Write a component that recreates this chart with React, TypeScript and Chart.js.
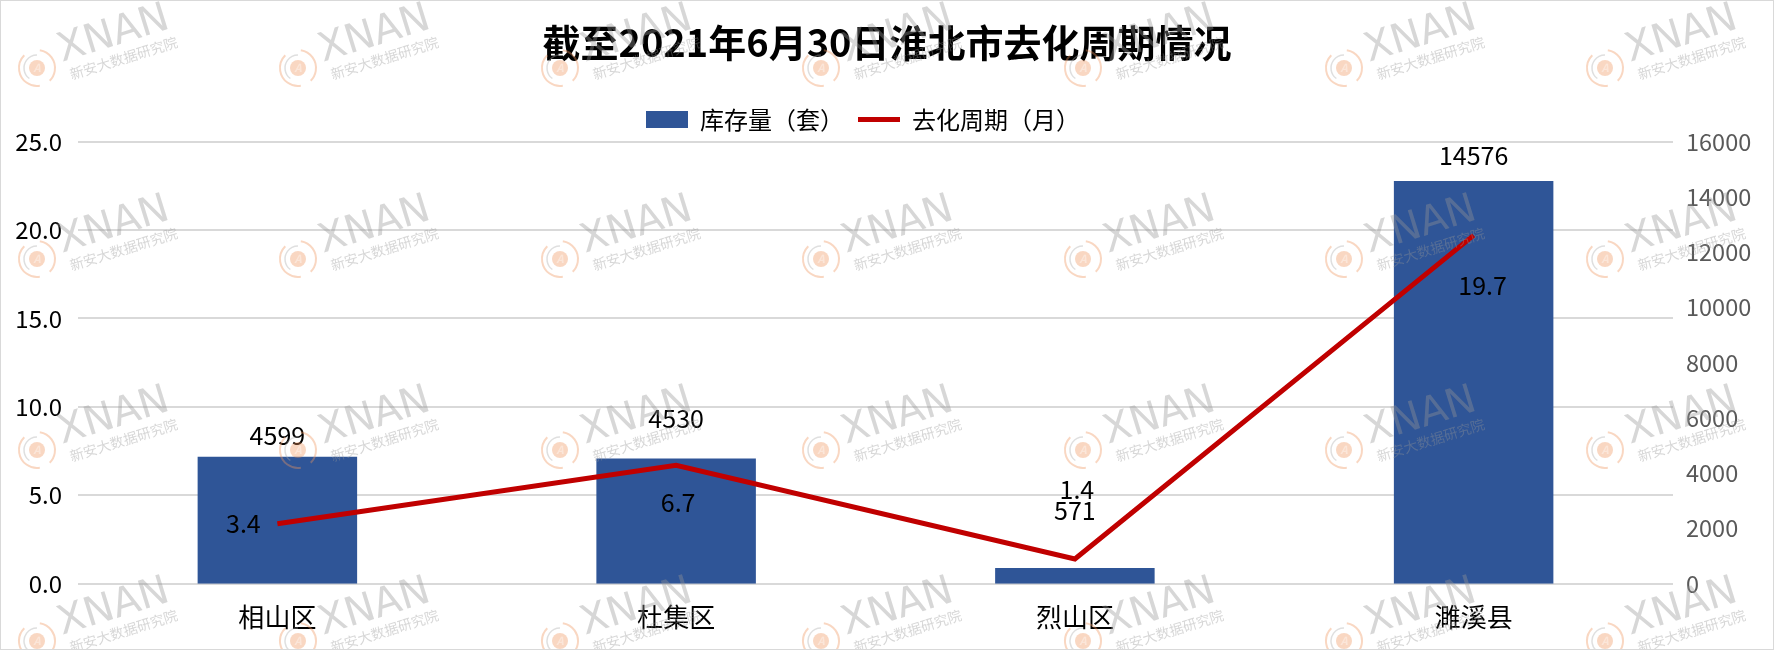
import React, { useEffect, useRef } from "react";
import { Chart, registerables } from "chart.js";

Chart.register(...registerables);

const TITLE = "截至2021年6月30日淮北市去化周期情况";
const categories = ["相山区", "杜集区", "烈山区", "濉溪县"];
const inventory = [4599, 4530, 571, 14576];
const cycleMonths = [3.4, 6.7, 1.4, 19.7];
const inventoryLabel = "库存量（套）";
const cycleLabel = "去化周期（月）";
const leftTicks = [0, 5, 10, 15, 20, 25];
const rightTicks = [0, 2000, 4000, 6000, 8000, 10000, 12000, 14000, 16000];

const FONT = "'Noto Sans CJK SC', 'Microsoft YaHei', sans-serif";

// label offsets (style only) relative to each mark
const barLabelDy = [-21, -40, -58, -25];
const lineLabelOffsets = [
  [-34, 0],
  [2, 37],
  [2, -70],
  [9, 50],
];
const LEGEND_SHIFT = -24;

const legendShiftPlugin = {
  id: "legendShift",
  afterLayout(chart: any) {
    const lg = chart.legend;
    if (lg) {
      lg.left += LEGEND_SHIFT;
      lg.right += LEGEND_SHIFT;
    }
  },
};

const watermarkPlugin = {
  id: "watermark",
  afterDraw(chart: any) {
    const ctx = chart.ctx;
    const cols = [37, 298, 560, 821, 1083, 1344, 1605];
    const rows = [68, 259, 450, 641];
    ctx.save();
    for (const cy of rows) {
      for (const cx of cols) {
        ctx.save();
        ctx.globalAlpha = 0.38;
        ctx.strokeStyle = "rgb(240,150,95)";
        ctx.lineWidth = 2;
        ctx.beginPath();
        ctx.arc(cx, cy, 18, Math.PI * 0.45, Math.PI * 1.25);
        ctx.stroke();
        ctx.beginPath();
        ctx.arc(cx, cy, 18, Math.PI * 1.55, Math.PI * 2.25);
        ctx.stroke();
        ctx.strokeStyle = "rgb(170,170,170)";
        ctx.lineWidth = 1.5;
        ctx.beginPath();
        ctx.arc(cx, cy, 13, Math.PI * 0.7, Math.PI * 1.5);
        ctx.stroke();
        ctx.fillStyle = "rgb(240,150,95)";
        ctx.beginPath();
        ctx.arc(cx, cy, 8, 0, Math.PI * 2);
        ctx.fill();
        ctx.fillStyle = "#fff";
        ctx.font = `italic bold 11px ${FONT}`;
        ctx.textAlign = "center";
        ctx.textBaseline = "middle";
        ctx.fillText("A", cx, cy);
        ctx.translate(cx + 26, cy + 4);
        ctx.rotate(-0.3);
        ctx.fillStyle = "rgb(150,150,150)";
        ctx.textAlign = "left";
        ctx.textBaseline = "alphabetic";
        ctx.font = `40px 'DejaVu Sans', sans-serif`;
        ctx.fillText("XNAN", 2, -10);
        ctx.font = `14px ${FONT}`;
        ctx.fillText("新安大数据研究院", 6, 10);
        ctx.restore();
      }
    }
    ctx.restore();
    ctx.save();
    ctx.strokeStyle = "#d9d9d9";
    ctx.lineWidth = 1;
    ctx.strokeRect(0.5, 0.5, chart.width - 1, chart.height - 1);
    ctx.restore();
  },
};

const labelsPlugin = {
  id: "valueLabels",
  afterDatasetsDraw(chart: any) {
    const ctx = chart.ctx;
    ctx.save();
    ctx.fillStyle = "#000";
    ctx.font = `25px ${FONT}`;
    ctx.textAlign = "center";
    ctx.textBaseline = "middle";
    const barMeta = chart.getDatasetMeta(0);
    barMeta.data.forEach((el: any, i: number) => {
      ctx.fillText(String(inventory[i]), el.x, el.y + barLabelDy[i]);
    });
    const lineMeta = chart.getDatasetMeta(1);
    lineMeta.data.forEach((el: any, i: number) => {
      const [dx, dy] = lineLabelOffsets[i];
      ctx.fillText(cycleMonths[i].toFixed(1), el.x + dx, el.y + dy);
    });
    ctx.restore();
  },
};

export default function App() {
  const ref = useRef<HTMLCanvasElement | null>(null);
  useEffect(() => {
    const canvas = ref.current!;
    const chart = new Chart(canvas, {
      type: "bar",
      data: {
        labels: categories,
        datasets: [
          {
            type: "bar",
            label: inventoryLabel,
            data: inventory,
            backgroundColor: "#2F5597",
            yAxisID: "y1",
            barPercentage: 0.8,
            categoryPercentage: 0.5,
            order: 2,
          },
          {
            type: "line",
            label: cycleLabel,
            data: cycleMonths,
            borderColor: "#C00000",
            backgroundColor: "#C00000",
            borderWidth: 5,
            pointRadius: 0,
            yAxisID: "y",
            order: 1,
          },
        ] as any,
      },
      options: {
        responsive: false,
        animation: false,
        devicePixelRatio: 1,
        layout: { padding: { top: 0, left: 0, right: 0, bottom: 7 } },
        plugins: {
          title: {
            display: true,
            text: TITLE,
            color: "#000",
            font: { family: FONT, size: 38, weight: "bold" },
            padding: { top: 20, bottom: 28 },
          },
          legend: {
            display: true,
            labels: {
              usePointStyle: true,
              pointStyleWidth: 42,
              boxHeight: 17,
              color: "#000",
              font: { family: FONT, size: 24 },
              padding: 14,
              generateLabels: () => [
                {
                  text: inventoryLabel,
                  fillStyle: "#2F5597",
                  strokeStyle: "#2F5597",
                  lineWidth: 0,
                  pointStyle: "rect",
                  datasetIndex: 0,
                  fontColor: "#000",
                } as any,
                {
                  text: cycleLabel,
                  fillStyle: "#C00000",
                  strokeStyle: "#C00000",
                  lineWidth: 5,
                  pointStyle: "line",
                  datasetIndex: 1,
                  fontColor: "#000",
                } as any,
              ],
            },
          },
          tooltip: { enabled: false },
        },
        scales: {
          x: {
            grid: { display: false },
            border: { display: false },
            ticks: {
              color: "#000",
              font: { family: FONT, size: 26 },
              padding: 10,
            },
          },
          y: {
            position: "left",
            min: 0,
            max: 25,
            afterBuildTicks: (s: any) => {
              s.ticks = leftTicks.map((v) => ({ value: v }));
            },
            afterFit: (s: any) => {
              s.width = 78;
            },
            grid: { color: "#d9d9d9", lineWidth: 2, drawTicks: false },
            border: { display: false },
            ticks: {
              color: "#000",
              font: { family: FONT, size: 24 },
              padding: 16,
              callback: (v: any) => Number(v).toFixed(1),
            },
          },
          y1: {
            position: "right",
            min: 0,
            max: 16000,
            afterBuildTicks: (s: any) => {
              s.ticks = rightTicks.map((v) => ({ value: v }));
            },
            afterFit: (s: any) => {
              s.width = 101;
            },
            grid: { display: false, drawTicks: false },
            border: { display: false },
            ticks: {
              color: "#595959",
              font: { family: FONT, size: 23.5 },
              padding: 13,
              callback: (v: any) => String(v),
            },
          },
        },
      } as any,
      plugins: [labelsPlugin, watermarkPlugin, legendShiftPlugin],
    });
    return () => chart.destroy();
  }, []);
  return (
    <div style={{ position: "absolute", left: 0, top: 0, width: 1774, height: 650, background: "#fff" }}>
      <canvas ref={ref} width={1774} height={650} style={{ width: 1774, height: 650, display: "block" }} />
    </div>
  );
}
